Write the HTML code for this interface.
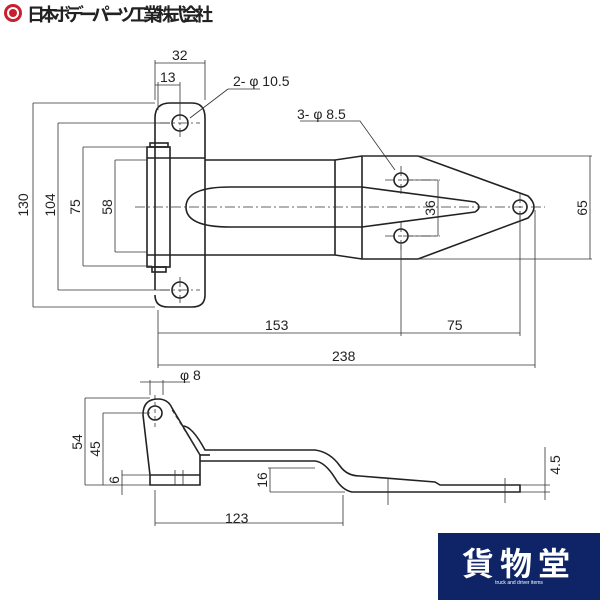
<!DOCTYPE html>
<html><head><meta charset="utf-8"><style>
body{margin:0;background:#fff;width:600px;height:600px;overflow:hidden}
svg{display:block}
text{font-family:"Liberation Sans",sans-serif;fill:#222}
</style></head><body>
<svg width="600" height="600" viewBox="0 0 600 600">
<circle cx="13" cy="13" r="9" fill="#c8202e"/><circle cx="13" cy="13" r="6" fill="#fff"/><circle cx="13" cy="13" r="4" fill="#c8202e"/>
<text x="27" y="21" font-size="18" font-weight="bold" style="font-family:'Liberation Sans','Noto Sans CJK JP',sans-serif" fill="#222" textLength="186">日本ボデーパーツ工業株式会社</text>

<g fill="none" stroke="#222" stroke-width="1.6">
<path d="M155,290 L155,118 Q155,103 170,103 L192,103 Q205,103 205,118 L205,295 Q205,307 192,307 L168,307 Q155,307 155,295"/>
<circle cx="180" cy="123" r="8"/><circle cx="180" cy="290" r="8"/>
<rect x="147" y="147" width="23" height="120"/>
<rect x="150" y="143" width="18" height="4"/><rect x="152" y="267" width="14" height="5"/>
<line x1="147" y1="158" x2="205" y2="158"/><line x1="147" y1="255" x2="205" y2="255"/>
<path d="M205,160 L335,160 L362,156 L418,156 L528,196 Q540,207 528,218 L418,259 L362,259 L335,255 L205,255"/>
<line x1="335" y1="160" x2="335" y2="255"/><line x1="362" y1="156" x2="362" y2="259"/>
<path d="M230,187 L362,187 L475,202 Q483,207 475,212 L362,227 L230,227 Q186,227 186,207 Q186,187 230,187"/>
<circle cx="401" cy="180" r="7"/><circle cx="401" cy="236" r="7"/><circle cx="520" cy="207" r="7"/>
<path d="M150,475 L143,415 Q143,399 158,399 Q168,399 172,408 L200,455 L200,485 L150,485 Z"/>
<line x1="150" y1="475" x2="200" y2="475"/>
<circle cx="155" cy="413" r="7"/>
<path d="M183,426 Q192,426 205,450 L315,450 Q330,452 340,466 Q347,476 360,476 L435,482 L440,485 L520,485 L520,492 L352,492 Q342,490 335,478 Q325,462 315,461 L200,461"/>
<line x1="200" y1="455" x2="210" y2="455"/>
</g>
<g fill="none" stroke="#333" stroke-width="0.8">
<path d="M135,207 L545,207 M160,123 L200,123 M180,110 L180,137 M160,290 L200,290 M180,277 L180,303 M385,180 L440,180 M401,166 L401,194 M385,236 L440,236 M401,222 L401,250 M520,193 L520,221" stroke-dasharray="10,3,2,3"/>
<path d="M155,395 L155,428 M172,410 L200,455" stroke-dasharray="4,3"/>
<path d="M155,100 L155,60 M205,100 L205,60 M155,63 L205,63 M158,110 L158,82 M180,110 L180,82 M155,85 L180,85"/>
<path d="M228,89 L260,89 M228,89 L190,118 M300,121 L360,121 L395,170"/>
<path d="M33,103 L155,103 M33,103 L33,307 M33,307 L155,307 M58,123 L170,123 M58,123 L58,290 M58,290 L170,290 M83,147 L147,147 M83,147 L83,266 M83,266 L152,266 M115,160 L147,160 M115,160 L115,252 M115,252 L147,252"/>
<path d="M408,180 L438,180 M438,180 L438,236 M408,236 L438,236 M362,156 L592,156 M418,259 L592,259 M590,156 L590,259"/>
<path d="M158,310 L158,368 M401,245 L401,336 M520,215 L520,336 M535,210 L535,368 M158,333 L520,333 M158,365 L535,365"/>
<path d="M150,380 L150,395 M163,380 L163,395 M140,382 L190,382"/>
<path d="M85,398 L150,398 M85,398 L85,485 M85,485 L150,485 M103,413 L150,413 M103,413 L103,485 M122,475 L150,475 M122,470 L122,495 M122,485 L150,485"/>
<path d="M268,468 L315,468 M270,468 L270,492 M270,492 L345,492 M155,490 L155,526 M343,495 L343,526 M155,523 L343,523 M520,485 L550,485 M520,492 L550,492 M545,447 L545,500"/>
<path d="M175,470 L175,485 M183,470 L183,485 M388,478 L388,505 M505,478 L505,503"/>
</g>
<g font-size="14">
<text x="172" y="60">32</text><text x="160" y="82">13</text>
<text x="233" y="86">2- φ 10.5</text><text x="297" y="119">3- φ 8.5</text>
<text x="265" y="330">153</text><text x="447" y="330">75</text><text x="332" y="361">238</text>
<text x="180" y="380">φ 8</text><text x="225" y="523">123</text>
<text transform="translate(28,205) rotate(-90)" text-anchor="middle">130</text>
<text transform="translate(55,205) rotate(-90)" text-anchor="middle">104</text>
<text transform="translate(80,207) rotate(-90)" text-anchor="middle">75</text>
<text transform="translate(112,207) rotate(-90)" text-anchor="middle">58</text>
<text transform="translate(435,208) rotate(-90)" text-anchor="middle">36</text>
<text transform="translate(587,208) rotate(-90)" text-anchor="middle">65</text>
<text transform="translate(82,442) rotate(-90)" text-anchor="middle">54</text>
<text transform="translate(100,449) rotate(-90)" text-anchor="middle">45</text>
<text transform="translate(119,480) rotate(-90)" text-anchor="middle">6</text>
<text transform="translate(267,480) rotate(-90)" text-anchor="middle">16</text>
<text transform="translate(560,465) rotate(-90)" text-anchor="middle">4.5</text>
</g>
<rect x="438" y="533" width="162" height="67" fill="#0e2466"/>
<text x="519" y="575" text-anchor="middle" font-size="32" font-weight="bold" style="font-family:'Liberation Sans','Noto Sans CJK JP',sans-serif;fill:#fff" letter-spacing="6">貨物堂</text>
<text x="519" y="584" text-anchor="middle" font-size="5" style="fill:#fff">truck and driver items</text>
</svg>
</body></html>
